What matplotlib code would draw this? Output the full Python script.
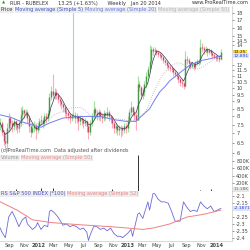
import matplotlib
matplotlib.use('Agg')
import matplotlib.pyplot as plt
import matplotlib.dates as mdates
import numpy as np
import pandas as pd

# weekly bars, RUR - RUBELEX
dates = pd.date_range('2011-07-25', periods=131, freq='W-MON')

closes = [7.6, 7.1, 6.6, 6.5, 7.3, 7.9, 7.6, 7.4, 7.7, 7.5,
          7.3, 7.6, 8.1, 8.4, 8.2, 8.3, 7.9, 7.4, 7.1, 7.3,
          7.4, 7.2, 7.4, 7.7, 7.8, 7.6, 8.0, 7.9, 8.2, 9.3,
          9.8, 9.5, 9.7, 9.5, 9.2, 9.0, 8.8, 8.6, 8.3, 8.2,
          8.1, 7.9, 8.0, 8.1, 7.9, 8.0, 7.7, 7.9, 7.8, 7.6,
          7.7, 7.4, 7.1, 7.6, 8.0, 8.5, 8.2, 8.1, 8.3, 8.0,
          7.9, 8.2, 8.1, 8.3, 8.0, 7.9, 7.6, 7.3, 7.4, 7.2,
          7.3, 7.3, 7.2, 7.4, 7.3, 7.8, 8.3, 8.6, 8.3, 8.1,
          7.8, 10.3, 10.1, 9.5, 9.7, 10.3, 11.0, 11.6, 12.4, 13.6,
          13.4, 13.5, 13.3, 13.1, 13.0, 12.8, 12.5, 12.3, 12.0, 11.8,
          11.7, 11.6, 11.3, 11.2, 11.0, 10.7, 10.5, 10.4, 10.2, 12.6,
          12.5, 12.2, 11.9, 12.1, 11.8, 12.2, 12.4, 12.3, 13.8, 13.7,
          13.5, 13.6, 13.3, 13.5, 13.2, 13.0, 12.9, 12.7, 12.8, 12.6,
          13.25]
highs = [7.9, 7.7, 7.2, 6.9, 7.6, 8.2, 8.0, 7.8, 7.9, 7.8,
         7.6, 7.8, 8.6, 8.7, 8.5, 8.5, 8.4, 8.0, 7.5, 7.6,
         7.7, 7.6, 7.6, 7.9, 8.1, 7.9, 8.2, 8.2, 8.4, 9.6,
         10.2, 11.2, 10.0, 9.9, 9.6, 9.3, 9.1, 8.9, 8.7, 8.5,
         8.4, 8.2, 8.2, 18.5, 8.3, 8.2, 8.1, 8.1, 8.0, 7.9,
         7.9, 7.8, 7.5, 7.8, 8.2, 9.0, 8.6, 8.4, 8.5, 8.4,
         8.2, 8.4, 8.3, 8.6, 8.4, 8.1, 8.0, 7.7, 7.6, 7.5,
         7.5, 7.5, 7.4, 7.6, 7.6, 8.0, 8.5, 9.0, 8.7, 8.4,
         8.2, 11.0, 10.6, 10.2, 10.0, 10.6, 11.3, 11.9, 14.0, 13.9,
         13.8, 13.8, 13.6, 13.4, 13.3, 13.1, 12.9, 12.6, 12.4, 12.1,
         12.0, 11.9, 11.7, 11.5, 11.3, 11.1, 10.8, 10.7, 10.5, 13.4,
         12.9, 12.7, 12.3, 12.3, 12.2, 12.4, 12.6, 12.6, 14.7, 14.2,
         13.9, 13.9, 13.7, 13.7, 13.6, 13.3, 13.2, 13.0, 13.0, 12.9,
         13.6]
lows = [7.2, 6.9, 6.4, 6.1, 6.1, 7.1, 7.3, 7.1, 7.2, 7.2,
        7.0, 7.1, 7.4, 7.9, 7.9, 8.0, 7.6, 7.1, 6.8, 7.0,
        7.1, 6.7, 7.0, 7.2, 7.5, 7.3, 7.4, 7.6, 7.7, 8.0,
        9.1, 9.2, 9.2, 9.2, 8.9, 8.7, 8.5, 8.3, 8.0, 7.9,
        7.8, 7.6, 7.7, 7.9, 7.6, 7.6, 7.2, 7.5, 7.5, 7.3,
        7.4, 7.1, 6.7, 6.9, 7.4, 7.8, 7.9, 7.8, 7.8, 7.7,
        7.6, 7.7, 7.8, 7.9, 7.7, 7.6, 7.3, 7.0, 7.0, 6.9,
        6.9, 6.8, 6.9, 7.0, 7.0, 7.1, 7.6, 8.1, 8.0, 7.8,
        7.2, 7.8, 9.8, 9.2, 9.2, 9.4, 10.0, 10.7, 11.3, 12.1,
        13.0, 13.1, 13.0, 12.8, 12.7, 12.5, 12.2, 12.0, 11.7, 11.5,
        11.4, 11.3, 11.0, 10.9, 10.7, 10.4, 10.2, 10.1, 9.9, 10.1,
        12.1, 11.9, 11.6, 11.7, 11.5, 11.6, 12.0, 12.0, 12.1, 13.3,
        13.1, 13.2, 12.9, 13.1, 12.9, 12.7, 12.6, 12.4, 12.4, 12.3,
        12.5]

# 50 week average (bar index, value)
ma50_idx = [0, 6, 12, 18, 24, 29, 37, 47, 59, 67, 74, 80, 82, 88, 91, 94, 97, 100, 106, 112, 118, 124, 130]
ma50_val = [8.1, 7.95, 7.7, 7.5, 7.35, 7.6, 7.9, 8.0, 8.0, 7.8, 7.7, 7.7, 7.9, 8.5, 9.1, 9.7, 10.1, 10.6, 11.3, 12.0, 12.4, 12.6, 12.891]

# volume (bar index, value)
vol_idx = [9, 24, 31, 66, 81, 118, 124, 130]
vol_val = [40e3, 90e3, 70e3, 40e3, 950e3, 30e3, 40e3, 11.18e3]

# relative strength vs S&P 500 (bar index, value)
rs_idx = [0, 1, 3, 5, 7, 9, 11, 13, 15, 16, 19, 21, 22, 24, 26, 28, 29, 30, 32, 34,
          35, 37, 39, 41, 43, 45, 47, 49, 51, 52, 53, 55, 57, 59, 61, 63, 65, 67, 69, 71,
          72, 75, 77, 78, 81, 82, 84, 87, 88, 90, 91, 93, 95, 97, 99, 101, 103, 106, 108, 110,
          112, 114, 116, 118, 120, 122, 124, 126, 128, 130]
rs_val = [-2.33, -2.36, -2.40, -2.25, -2.21, -2.26, -2.32, -2.27, -2.25, -2.30,
          -2.34, -2.32, -2.29, -2.34, -2.31, -2.32, -2.21, -2.20, -2.22, -2.25,
          -2.27, -2.31, -2.30, -2.32, -2.31, -2.32, -2.34, -2.33, -2.36, -2.42,
          -2.38, -2.32, -2.32, -2.34, -2.33, -2.35, -2.33, -2.37, -2.39, -2.39,
          -2.40, -2.37, -2.34, -2.39, -2.23, -2.22, -2.26, -2.14, -2.20, -2.08,
          -2.08, -2.12, -2.14, -2.14, -2.15, -2.21, -2.28, -2.28, -2.14, -2.18,
          -2.21, -2.20, -2.21, -2.14, -2.17, -2.19, -2.17, -2.21, -2.20, -2.1871]
rs_ma_idx = [0, 10, 19, 30, 40, 52, 65, 75, 84, 90, 100, 110, 120, 130]
rs_ma_val = [-2.14, -2.20, -2.27, -2.29, -2.30, -2.31, -2.32, -2.33, -2.34, -2.33, -2.30, -2.25, -2.23, -2.20]

price_ticks = [6, 6.5, 7, 7.5, 8, 8.5, 9, 9.5, 10, 10.5, 11, 11.5, 12, 14, 14.5, 15, 16, 17, 18]
vol_ticks = [200e3, 400e3, 600e3, 800e3]
vol_tick_labels = ['200K', '400K', '600K', '800K']
rs_ticks = [-2.4, -2.35, -2.3, -2.25, -2.15, -2.1]

FS = 3.6
FLAG_FS = 3.2
TXT = '#444444'
plt.rcParams['font.family'] = ['DejaVu Sans']

fig = plt.figure(figsize=(2.5, 2.5), dpi=100)
L, W = 0.0, 0.928
ax1 = fig.add_axes([L, 0.38, W, 0.596])
ax2 = fig.add_axes([L, 0.236, W, 0.144])
ax3 = fig.add_axes([L, 0.036, W, 0.2])

closes = np.array(closes)
highs = np.array(highs)
lows = np.array(lows)
opens = np.r_[closes[0], closes[:-1]]
up = closes >= opens
xd = mdates.date2num(dates)

ax1.vlines(xd, lows, highs, colors=np.where(up, '#9ee29e', '#ffa9bb'), lw=0.8)
ax1.vlines(xd, np.minimum(opens, closes), np.maximum(opens, closes),
           colors=np.where(up, '#4a9a4a', '#c04a6a'), lw=1.0)
ma5 = pd.Series(closes).rolling(5, min_periods=1).mean()
ma20 = pd.Series(closes).rolling(20, min_periods=1).mean()
ax1.plot(xd, ma20, color='#b0b0b0', lw=0.6, ls=':')
ax1.plot(xd, ma5, color='#3a3a55', lw=0.5)
ax1.plot(xd[ma50_idx], ma50_val, color='#7080f0', lw=0.7)
ax1.set_yscale('log')
ax1.set_ylim(5.91, 19.05)

ax2.vlines(xd[vol_idx], 0, vol_val, colors='#333333', lw=0.7)
ax2.set_ylim(0, 950e3)

ax3.plot(xd[rs_idx], rs_val, color='#6a6ad8', lw=0.6)
ax3.plot(xd[rs_ma_idx], rs_ma_val, color='#f08080', lw=0.7)
ax3.set_ylim(-2.424, -2.061)

x0 = mdates.date2num(pd.Timestamp('2011-07-24'))
x1 = mdates.date2num(pd.Timestamp('2014-03-07'))
for ax in (ax1, ax2, ax3):
    ax.set_xlim(x0, x1)
    ax.yaxis.tick_right()
    ax.tick_params(axis='y', labelsize=FS, colors=TXT, length=1.5, width=0.4, pad=1.5)
    ax.tick_params(axis='x', length=0)
    for s in ax.spines.values():
        s.set_linewidth(0.4)
        s.set_color('#bbbbbb')
    ax.spines['left'].set_visible(False)
    ax.spines['top'].set_visible(False)
    ax.set_xticks([])

ax1.yaxis.set_major_locator(matplotlib.ticker.FixedLocator(price_ticks))
ax1.yaxis.set_minor_locator(matplotlib.ticker.NullLocator())
ax1.set_yticklabels([f'{t:g}' for t in price_ticks])
ax2.set_yticks(vol_ticks)
ax2.set_yticklabels(vol_tick_labels)
ax3.set_yticks(rs_ticks)
ax3.set_yticklabels([f'{t:g}' for t in rs_ticks])

# x axis month labels on the bottom panel
month_ticks = pd.date_range('2011-09-01', '2014-01-01', freq='2MS')
ax3.set_xticks(mdates.date2num(month_ticks))
ax3.set_xticklabels([d.strftime('%Y') if d.month == 1 else d.strftime('%b') for d in month_ticks])
ax3.tick_params(axis='x', labelsize=FS, colors=TXT, pad=1.5)
for lab, d in zip(ax3.get_xticklabels(), month_ticks):
    if d.month == 1:
        lab.set_fontweight('bold')


# value flags on the right axis
def flag(ax, y, text, fc, tc):
    ax.annotate(text, xy=(1, y), xycoords=('axes fraction', 'data'), xytext=(1.2, 0),
                textcoords='offset points', fontsize=FLAG_FS, color=tc, va='center', ha='left',
                bbox=dict(boxstyle='square,pad=0.1', fc=fc, ec='none'), annotation_clip=False)


flag(ax1, 13.25, '13.25', '#f2d64b', '#333333')
flag(ax1, 12.891, '12.891', '#dde4ff', '#3344cc')
flag(ax2, 40e3, '11.18K', '#e6e6e6', '#777777')
flag(ax3, -2.1871, '-2.1871', '#dde4ff', '#3344cc')


# legend rows on a light grey strip
def legend_row(ax, parts):
    r = fig.canvas.get_renderer()
    x = 0.004
    for s, c in parts:
        t = ax.text(x, 0.992, s, transform=ax.transAxes, fontsize=FS, color=c, va='top', ha='left',
                    bbox=dict(boxstyle='square,pad=0.12', fc='#ececec', ec='none'))
        bb = t.get_window_extent(renderer=r).transformed(ax.transAxes.inverted())
        x = bb.x1 + 0.008


legend_row(ax1, [('Price', '#333333'), ('Moving average (Simple 5)', '#3a55c8'),
                 ('Moving average (Simple 20)', '#5f7ae0'), ('Moving average (Simple 50)', '#b5b5b5')])
legend_row(ax2, [('Volume', '#999999'), ('Moving average (Simple 50)', '#f08a8a')])
legend_row(ax3, [('RS S&P 500 INDEX (*100)', '#5050c0'), ('Moving average (Simple 52)', '#f08080')])

ax1.text(0.006, 0.012, '(c)ProRealTime.com  Data adjusted after dividends', transform=ax1.transAxes,
         fontsize=FS, color='#555555', va='bottom', ha='left')

fig.text(0.006, 0.988, '\u25b2', fontsize=3, color='#2a9a2a', va='center', ha='left')
fig.text(0.04, 0.988, 'RUR - RUBELEX      13.25 (+1.63%)      Weekly   Jan 20 2014',
         fontsize=FS, color='#333333', va='center', ha='left')
fig.text(0.995, 0.988, 'www.ProRealTime.com', fontsize=FS, color='#333333', va='center', ha='right')

fig.savefig('out.png', dpi=100, facecolor='white')
